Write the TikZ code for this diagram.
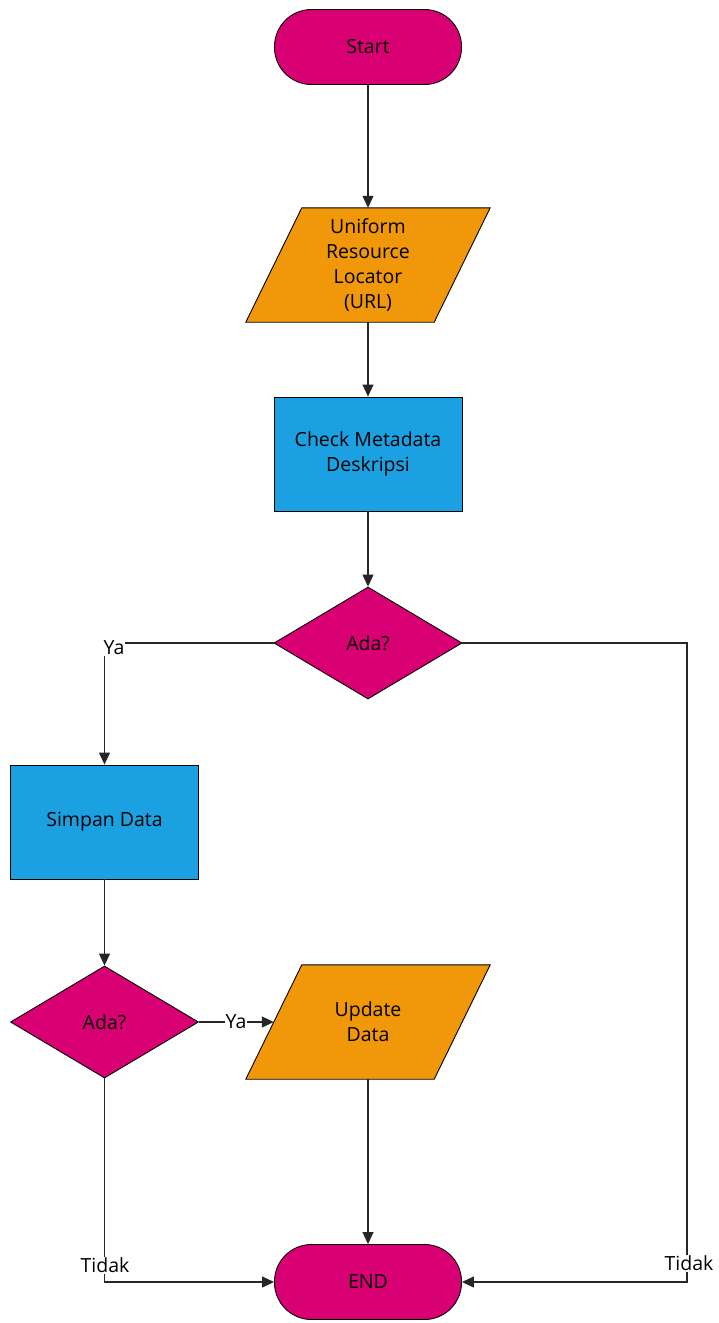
\documentclass[tikz,border=0pt]{standalone}
\usepackage{fontspec}
\setmainfont{Open Sans}
\usetikzlibrary{shapes.geometric,arrows.meta,backgrounds}
\definecolor{mag}{HTML}{D80073}
\definecolor{amb}{HTML}{F0980A}
\definecolor{blu}{HTML}{1BA1E2}
\begin{document}
\begin{tikzpicture}[x=1pt,y=-1pt,
  font=\fontsize{19.5}{25}\selectfont,
  base/.style={draw=black,line width=0.9pt,text=black,align=center,inner sep=0pt},
  term/.style={base,fill=mag,rounded corners=37pt,minimum width=187pt,minimum height=75pt},
  proc/.style={base,fill=blu,minimum width=188pt,minimum height=114pt},
  io/.style={align=center,text=black,inner sep=0pt,minimum width=188pt,minimum height=114pt},
  iobg/.style={draw=black,line width=0.9pt,fill=amb},
  dec/.style={base,fill=mag,diamond,aspect=1.68,minimum width=188pt,minimum height=112pt},
  conn/.style={line width=1.1pt,black!85,-{Triangle[length=12pt,width=11pt]}},
  lbl/.style={fill=white,inner sep=1pt,text=black}]
\useasboundingbox (0,0) rectangle (718,1323);
\node[term] (start) at (368,47) {Start};
\node[io] (url) at (368,265) {Uniform\\Resource\\Locator\\(URL)};
\node[proc] (check) at (368,454) {Check Metadata\\Deskripsi};
\node[dec] (ada1) at (368,643) {Ada?};
\node[proc] (simpan) at (104.5,822) {Simpan Data};
\node[dec] (ada2) at (104.5,1022) {Ada?};
\node[io] (update) at (368,1022) {Update\\Data};
\node[term] (end) at (368,1282) {END};
\begin{scope}[on background layer]
  \foreach \n in {url,update}{
    \filldraw[iobg] ([xshift=28pt]\n.north west) -- ([xshift=28pt]\n.north east)
      -- ([xshift=-28pt]\n.south east) -- ([xshift=-28pt]\n.south west) -- cycle;
  }
\end{scope}
\coordinate (c1) at (104.5,643);
\coordinate (c2) at (687,643);
\coordinate (c3) at (687,1282);
\coordinate (c4) at (104.5,1282);
\draw[conn] (start) -- (url);
\draw[conn] (url) -- (check);
\draw[conn] (check) -- (ada1);
\draw[conn] (ada1.west) -- (c1) -- (simpan.north);
\draw[conn] (ada1.east) -- (c2) -- (c3) -- (end.east);
\draw[conn] (simpan) -- (ada2);
\draw[conn] (ada2.east) -- (update.west);
\draw[conn] (ada2.south) -- (c4) -- (end.west);
\draw[conn] (update) -- (end);
\node[lbl] (ya1) at (114,648) {Ya};
\node[lbl] (ya2) at (236,1022) {Ya};
\node[lbl] (tidak1) at (105,1265) {Tidak};
\node[lbl] (tidak2) at (689,1263) {Tidak};
\end{tikzpicture}
\end{document}
